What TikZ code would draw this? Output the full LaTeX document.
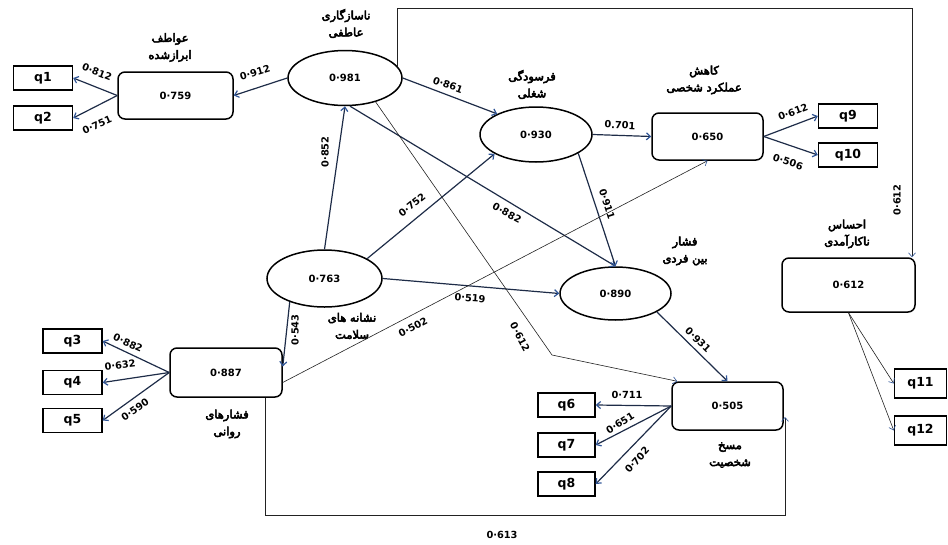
\documentclass[tikz,border=0pt]{standalone}
\usepackage{fontspec}
\setmainfont{DejaVu Sans}
\newfontfamily\fa[Script=Arabic,FakeBold=4.5]{DejaVu Sans}
\TeXXeTstate=1
\usetikzlibrary{shapes.geometric,arrows.meta,calc}

\definecolor{edgecol}{HTML}{1E2C48}
\definecolor{tipcol}{HTML}{2F5597}
\definecolor{thincol}{HTML}{222222}

\newcommand{\rl}[1]{\beginR#1\endR}

\begin{document}
\begin{tikzpicture}[x=1pt,y=-1pt,
  lat/.style={ellipse, draw=black, line width=1.5pt, inner sep=0pt,
    font=\bfseries\fontsize{10}{12}\selectfont},
  blk/.style={rectangle, rounded corners=7pt, draw=black, line width=1.5pt,
    inner sep=0pt, font=\bfseries\fontsize{10}{12}\selectfont},
  item/.style={rectangle, draw=black, line width=1.4pt, minimum width=59pt,
    minimum height=24pt, inner sep=0pt, font=\bfseries\fontsize{12.5}{13}\selectfont},
  link/.style={draw=edgecol, line width=1.2pt,
    -{Straight Barb[length=4pt,width=7pt,color=tipcol]}},
  thinlink/.style={draw=thincol, line width=0.6pt,
    -{Straight Barb[length=4pt,width=7pt,color=tipcol]}},
  coef/.style={font=\bfseries\fontsize{9.8}{10}\selectfont, inner sep=1pt},
  title/.style={font=\fa\fontsize{11.5}{17}\selectfont, align=center,
    inner sep=0pt}
]
\path[use as bounding box] (0,0) rectangle (948,544);

% ---- constructs ----
\node[blk, minimum width=115pt, minimum height=47pt] (B759) at (175.5,95.5) {0·759};
\node[item] (q1) at (43,78) {q1};
\node[item] (q2) at (43,118) {q2};

\node[lat, minimum width=114pt, minimum height=55pt] (E981) at (345,78) {0·981};
\node[lat, minimum width=112pt, minimum height=55pt] (E930) at (536,134.5) {0·930};

\node[blk, minimum width=111pt, minimum height=47pt] (B650) at (707.5,136.5) {0·650};
\node[item] (q9) at (848,116) {q9};
\node[item] (q10) at (848,155) {q10};

\node[lat, minimum width=115pt, minimum height=57pt] (E763) at (324.5,278.5) {0·763};
\node[lat, minimum width=111pt, minimum height=53pt] (E890) at (615.5,293.5) {0·890};

\node[blk, minimum width=133pt, minimum height=54pt] (B612) at (848.5,285) {0·612};
\node[item, minimum width=52pt, minimum height=29pt] (q11) at (920.5,383.5) {q11};
\node[item, minimum width=52pt, minimum height=29pt] (q12) at (920.5,430.5) {q12};

\node[blk, minimum width=112pt, minimum height=49pt] (B887) at (226,372.5) {0·887};
\node[item] (q3) at (72.5,341) {q3};
\node[item] (q4) at (72.5,382.5) {q4};
\node[item] (q5) at (72.5,420.5) {q5};

\node[blk, minimum width=111pt, minimum height=48pt] (B505) at (727.5,406) {0·505};
\node[item, minimum width=57pt] (q6) at (566.5,405) {q6};
\node[item, minimum width=57pt] (q7) at (566.5,445) {q7};
\node[item, minimum width=57pt] (q8) at (566.5,484) {q8};

% ---- construct names ----
\node[title] (tEmo) at (170,47.5) {\rl{عواطف}\\\rl{ابرازشده}};
\node[title] (tMal) at (346,23.5) {\rl{ناسازگاری}\\\rl{عاطفی}};
\node[title] (tBurn) at (532,84.5) {\rl{فرسودگی}\\\rl{شغلی}};
\node[title] (tAcc) at (704,80) {\rl{کاهش}\\\rl{عملکرد شخصی}};
\node[title] (tStrain) at (685,251) {\rl{فشار}\\\rl{بین فردی}};
\node[title] (tIneff) at (847,234) {\rl{احساس}\\\rl{ناکارآمدی}};
\node[title] (tHealth) at (352,326) {\rl{نشانه های}\\\rl{سلامت}};
\node[title] (tPsy) at (227,424) {\rl{فشارهای}\\\rl{روانی}};
\node[title] (tDep) at (730,455) {\rl{مسخ}\\\rl{شخصیت}};

% ---- routing points ----
\coordinate (rtop) at (912,8);
\coordinate (kink) at (552,355);
\coordinate (lbot) at (265,515);
\coordinate (rbot) at (785,515);
\coordinate (r505) at (785,417);

% ---- structural paths ----
\draw[link] (E981.west) -- (B759.east);
\draw[link] (E981.east) -- (E930.152);
\draw[link] (E930.east) -- (B650.west);
\draw[link] (E763.north) -- (E981.south);
\draw[link] (E763.25) -- (E930.205);
\draw[link] (E981.-80) -- (E890.north);
\draw[link] (E930.-24) -- (E890.north);
\draw[link] (E763.east) -- (E890.west);
\draw[link] (E763.-146) -- ([yshift=6pt]B887.east);
\draw[link] (E890.-24) -- (B505.north);
\draw[thinlink] ([yshift=-10pt]B887.east) -- (B650.south);
\draw[thinlink] (E981.-38) -- (kink) -- ([xshift=6pt]B505.north west);
\draw[thinlink] (E981.13) -- (E981.13 |- rtop) -- (rtop) -- (rtop |- B612.north);
\draw[thinlink] (B887.south -| lbot) -- (lbot) -- (rbot) -- (r505);

% ---- indicator loadings ----
\draw[link] (B759.west) -- (q1.east);
\draw[link] (B759.west) -- (q2.east);
\draw[link] (B650.east) -- (q9.west);
\draw[link] (B650.east) -- (q10.west);
\draw[link] (B887.west) -- (q3.east);
\draw[link] (B887.west) -- (q4.east);
\draw[link] (B887.west) -- (q5.east);
\draw[link] (B505.west) -- (q6.east);
\draw[link] (B505.west) -- (q7.east);
\draw[link] (B505.west) -- (q8.east);
\draw[thinlink] (B612.south) -- (q11.west);
\draw[thinlink] (B612.south) -- (q12.west);

% ---- coefficients ----
\node[coef, rotate=-21] (k812) at (97,72) {0·812};
\node[coef, rotate=24] (k751) at (97,125) {0·751};
\node[coef, rotate=17] (k912) at (255,73) {0·912};
\node[coef, rotate=-20] (k861) at (448,85) {0·861};
\node[coef, rotate=-3] (k701) at (620,125) {0.701};
\node[coef, rotate=21] (k612a) at (793,112) {0·612};
\node[coef, rotate=-18] (k506) at (788,162) {0·506};
\node[coef, rotate=90] (k852) at (325,152) {0·852};
\node[coef, rotate=39] (k752) at (412,205) {0·752};
\node[coef, rotate=-28] (k882a) at (507,213) {0·882};
\node[coef, rotate=-72] (k911) at (607,204) {0·911};
\node[coef, rotate=-4] (k519) at (470,298) {0·519};
\node[coef, rotate=28] (k502) at (413,327) {0·502};
\node[coef, rotate=90] (k543) at (295,330) {0·543};
\node[coef, rotate=-62] (k612b) at (520,337) {0·612};
\node[coef, rotate=-44] (k931) at (698,340) {0·931};
\node[coef, rotate=90] (k612c) at (897,200) {0·612};
\node[coef] (k613) at (502,535) {0·613};
\node[coef, rotate=-24] (k882b) at (128,343) {0·882};
\node[coef, rotate=7] (k632) at (120,365) {0·632};
\node[coef, rotate=35] (k590) at (135,410) {0·590};
\node[coef] (k711) at (627,395) {0·711};
\node[coef, rotate=32] (k651) at (620,423) {0·651};
\node[coef, rotate=48] (k702) at (637,460) {0·702};
\end{tikzpicture}
\end{document}
